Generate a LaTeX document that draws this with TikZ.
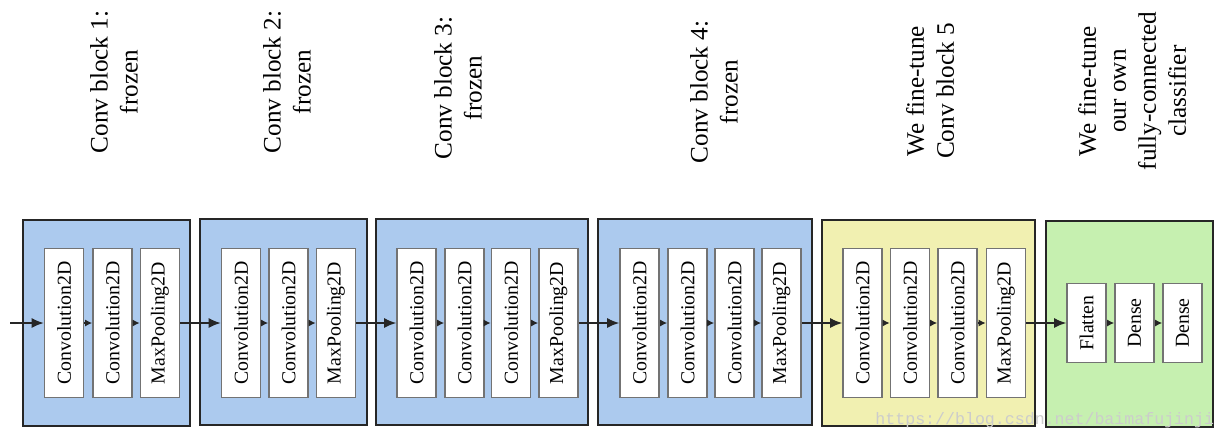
\documentclass[tikz,border=0pt]{standalone}
\usepackage{fontspec}
\setmainfont{Liberation Serif}
\newfontfamily\urlfont{Liberation Mono}
\usepackage{xcolor}
\usepackage{tikz}
\usetikzlibrary{positioning,arrows.meta}

\definecolor{frozenblue}{RGB}{172,202,238}
\definecolor{tuneyellow}{RGB}{241,240,177}
\definecolor{fcgreen}{RGB}{198,240,176}

\tikzset{
    convblock/.style={draw=black!85, line width=1pt, minimum height=103pt, inner sep=0pt},
    layer/.style={draw=black!55, line width=0.8pt, fill=white, rotate=90, minimum width=74.5pt, minimum height=19.5pt, inner sep=0pt, font=\fontsize{9.9}{12}\selectfont},
    heading/.style={rotate=90, align=center, font=\fontsize{12.6}{15}\selectfont},
    bigarrow/.style={-{Latex[length=6pt,width=5pt]}, line width=0.75pt, draw=black!85},
    smallarrow/.style={-{Latex[length=3.5pt,width=3.5pt]}, line width=0.75pt, draw=black!85},
}

\begin{document}
\begin{tikzpicture}[x=0.5pt,y=-0.5pt]
    \useasboundingbox (0,0) rectangle (1226,440);

    % Outer blocks
    \node[convblock, fill=frozenblue, minimum width=83.5pt] (b1) at (106.5,323) {};
    \node[convblock, fill=frozenblue, minimum width=83.5pt] (b2) at (283.5,322) {};
    \node[convblock, fill=frozenblue, minimum width=106pt] (b3) at (482,322) {};
    \node[convblock, fill=frozenblue, minimum width=107pt] (b4) at (705,322) {};
    \node[convblock, fill=tuneyellow, minimum width=106.5pt] (b5) at (928.5,323) {};
    \node[convblock, fill=fcgreen, minimum width=83.5pt] (b6) at (1129.5,324) {};

    % Headings
    \node[heading] (h1) at (114,82) {Conv block 1:\\frozen};
    \node[heading] (h2) at (287,82) {Conv block 2:\\frozen};
    \node[heading] (h3) at (458,88) {Conv block 3:\\frozen};
    \node[heading] (h4) at (714,92) {Conv block 4:\\frozen};
    \node[heading] (h5) at (930,91) {We fine-tune\\Conv block 5};
    \node[heading] (h6) at (1132,91) {We fine-tune\\our own\\fully-connected\\classifier};

    % Layers
    \foreach \x/\lbl [count=\i] in {64/Convolution2D,112.5/Convolution2D,160/MaxPooling2D}
        \node[layer] (b1l\i) at (\x,323) {\lbl};
    \foreach \x/\lbl [count=\i] in {241/Convolution2D,288.5/Convolution2D,336/MaxPooling2D}
        \node[layer] (b2l\i) at (\x,323) {\lbl};
    \foreach \x/\lbl [count=\i] in {416.5/Convolution2D,464.5/Convolution2D,511/Convolution2D,558.5/MaxPooling2D}
        \node[layer] (b3l\i) at (\x,323) {\lbl};
    \foreach \x/\lbl [count=\i] in {639.5/Convolution2D,687.5/Convolution2D,734.5/Convolution2D,781.5/MaxPooling2D}
        \node[layer] (b4l\i) at (\x,323) {\lbl};
    \foreach \x/\lbl [count=\i] in {862.5/Convolution2D,910/Convolution2D,957.5/Convolution2D,1006/MaxPooling2D}
        \node[layer] (b5l\i) at (\x,323) {\lbl};
    \foreach \x/\lbl [count=\i] in {1086.5/Flatten,1134.5/Dense,1182.5/Dense}
        \node[layer, minimum width=39.5pt] (b6l\i) at (\x,323) {\lbl};

    % Flow inside the blocks
    \draw[smallarrow] (b1l1) -- (b1l2);
    \draw[smallarrow] (b1l2) -- (b1l3);
    \draw[smallarrow] (b2l1) -- (b2l2);
    \draw[smallarrow] (b2l2) -- (b2l3);
    \foreach \b in {3,4,5} {
        \draw[smallarrow] (b\b l1) -- (b\b l2);
        \draw[smallarrow] (b\b l2) -- (b\b l3);
        \draw[smallarrow] (b\b l3) -- (b\b l4);
    }
    \draw[smallarrow] (b6l1) -- (b6l2);
    \draw[smallarrow] (b6l2) -- (b6l3);

    % Flow between the blocks
    \coordinate (in) at (10,323);
    \draw[bigarrow] (in) -- (b1l1);
    \draw[bigarrow] (b1l3) -- (b2l1);
    \draw[bigarrow] (b2l3) -- (b3l1);
    \draw[bigarrow] (b3l4) -- (b4l1);
    \draw[bigarrow] (b4l4) -- (b5l1);
    \draw[bigarrow] (b5l4) -- (b6l1);

    % Watermark
    \node[anchor=west, inner sep=0pt, text=black!20, font=\urlfont\fontsize{8.3}{10}\selectfont] (wm) at (875,420) {https://blog.csdn.net/baimafujinji};
\end{tikzpicture}
\end{document}
